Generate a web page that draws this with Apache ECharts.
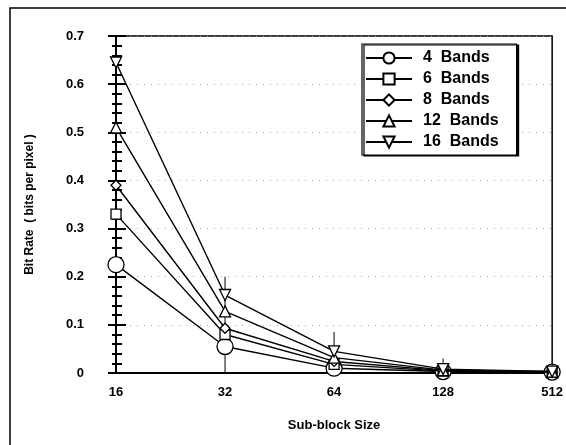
<!DOCTYPE html>
<html><head><meta charset="utf-8">
<script src="https://cdn.jsdelivr.net/npm/echarts@6/dist/echarts.min.js"></script>
<style>html,body{margin:0;padding:0;background:#fff}#c{width:566px;height:445px}</style>
</head><body><div id="c"></div>
<script>
const categories = ['16', '32', '64', '128', '512'];
const seriesNames = ['4  Bands', '6  Bands', '8  Bands', '12  Bands', '16  Bands'];
const bands4  = [0.225, 0.055, 0.010, 0.003, 0.002];
const bands6  = [0.330, 0.080, 0.018, 0.004, 0.002];
const bands8  = [0.390, 0.093, 0.024, 0.005, 0.002];
const bands12 = [0.510, 0.128, 0.032, 0.006, 0.003];
const bands16 = [0.645, 0.162, 0.045, 0.008, 0.003];
const yTicks = [0, 0.1, 0.2, 0.3, 0.4, 0.5, 0.6, 0.7];
const errBarCats = ['32', '64', '128'];
const errBarTops = [0.2, 0.085, 0.03];

const values = [bands4, bands6, bands8, bands12, bands16];
const symbols = ['circle', 'rect', 'diamond', 'triangle', 'path://M0,0 L10,0 L5,10 Z'];
const sizes = [16, 10, 10, 11, 11];
const font = 'Liberation Sans, Arial, sans-serif';

const series = values.map((v, i) => ({
  name: seriesNames[i], type: 'line', data: v,
  symbol: symbols[i], symbolSize: sizes[i],
  lineStyle: { color: '#000', width: 1.4 },
  itemStyle: { color: '#fff', borderColor: '#000', borderWidth: 1.3 },
  z: 3 + i
}));
errBarCats.forEach((c, i) => {
  series.push({
    name: 'err' + i, type: 'line', data: [[c, errBarTops[i]], [c, 0]],
    symbol: 'none', lineStyle: { color: '#000', width: 1 }, z: 2, silent: true
  });
});

const yMin = yTicks[0], yMax = yTicks[yTicks.length - 1];
const yInt = yTicks[1] - yTicks[0];

const chart = echarts.init(document.getElementById('c'), null, { renderer: 'canvas' });
chart.setOption({
  animation: false,
  backgroundColor: '#fff',
  graphic: [{
    type: 'rect', shape: { x: 10, y: 8, width: 600, height: 480 },
    style: { fill: 'none', stroke: '#000', lineWidth: 1.5 }, z: 0
  }],
  grid: { left: 116, right: 9, top: 36, bottom: 72, show: true, borderColor: '#000', borderWidth: 1.5, backgroundColor: 'transparent' },
  legend: {
    data: seriesNames, orient: 'vertical', left: 362, top: 44,
    itemWidth: 46, itemHeight: 14, itemGap: 5,
    borderColor: '#000', borderWidth: 1.2, backgroundColor: '#fff',
    padding: [6, 18, 5, 3],
    shadowColor: '#000', shadowOffsetX: 2, shadowOffsetY: 1, shadowBlur: 0,
    textStyle: { fontFamily: font, fontWeight: 'bold', fontSize: 16, color: '#000', padding: [0, 0, 0, 6] }
  },
  xAxis: {
    type: 'category', data: categories, boundaryGap: false,
    name: 'Sub-block Size', nameLocation: 'middle', nameGap: 46,
    nameTextStyle: { fontFamily: font, fontWeight: 'bold', fontSize: 13, color: '#000' },
    axisLine: { lineStyle: { color: '#000', width: 2 } },
    axisTick: { show: false },
    axisLabel: { fontFamily: font, fontWeight: 'bold', fontSize: 13, color: '#000', margin: 13 },
    splitLine: { show: false }
  },
  yAxis: [{
    type: 'value', min: yMin, max: yMax, interval: yInt,
    name: 'Bit Rate  ( bits per pixel )', nameLocation: 'middle', nameGap: 80,
    nameTextStyle: { fontFamily: font, fontWeight: 'bold', fontSize: 12, color: '#000' },
    axisLine: { show: true, lineStyle: { color: '#000', width: 2 } },
    axisTick: { show: true, inside: true, length: 10, lineStyle: { color: '#000', width: 2 } },
    minorTick: { show: true, splitNumber: 5, length: 6, lineStyle: { color: '#000', width: 2 } },
    axisLabel: { fontFamily: font, fontWeight: 'bold', fontSize: 13, color: '#000', margin: 32,
      formatter: v => v === 0 ? '0' : v.toFixed(1) },
    splitLine: { show: true, lineStyle: { color: '#aaa', width: 1, type: [1, 6] } }
  }, {
    type: 'value', min: yMin, max: yMax, interval: yInt, position: 'left', offset: 0,
    axisLine: { show: false },
    axisTick: { show: true, inside: false, length: 8, lineStyle: { color: '#000', width: 2 } },
    minorTick: { show: true, splitNumber: 5, length: 4, lineStyle: { color: '#000', width: 2 } },
    axisLabel: { show: false }, splitLine: { show: false }
  }],
  series: series
});
</script></body></html>
